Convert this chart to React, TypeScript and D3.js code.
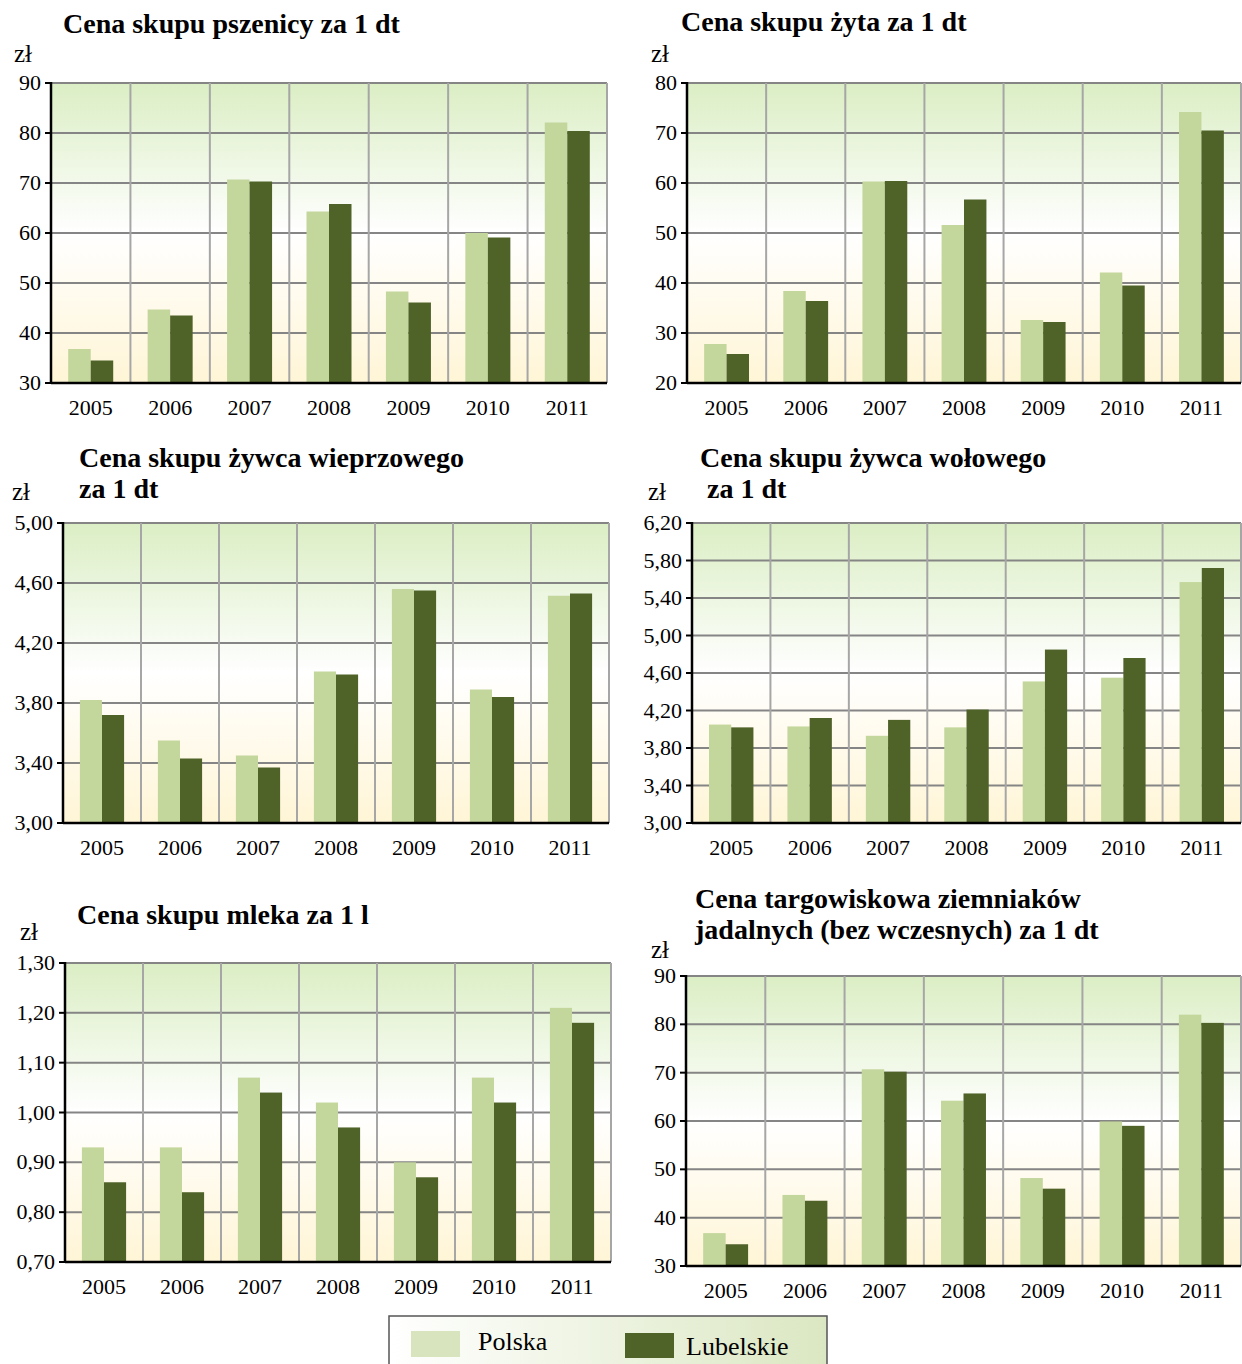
import React from "react";
import * as d3 from "d3";

const years = ["2005", "2006", "2007", "2008", "2009", "2010", "2011"];
const seriesNames = ["Polska", "Lubelskie"];

const wheatPolska = [36.8, 44.7, 70.7, 64.3, 48.3, 60.0, 82.1];
const wheatLubelskie = [34.5, 43.5, 70.3, 65.8, 46.1, 59.1, 80.4];
const wheatTicks = [30, 40, 50, 60, 70, 80, 90];

const ryePolska = [27.8, 38.4, 60.3, 51.6, 32.6, 42.1, 74.2];
const ryeLubelskie = [25.8, 36.4, 60.4, 56.7, 32.2, 39.5, 70.5];
const ryeTicks = [20, 30, 40, 50, 60, 70, 80];

const porkPolska = [3.82, 3.55, 3.45, 4.01, 4.56, 3.89, 4.515];
const porkLubelskie = [3.72, 3.43, 3.37, 3.99, 4.55, 3.84, 4.53];
const porkTicks = [3.0, 3.4, 3.8, 4.2, 4.6, 5.0];

const beefPolska = [4.05, 4.03, 3.93, 4.02, 4.51, 4.55, 5.57];
const beefLubelskie = [4.02, 4.12, 4.1, 4.21, 4.85, 4.76, 5.72];
const beefTicks = [3.0, 3.4, 3.8, 4.2, 4.6, 5.0, 5.4, 5.8, 6.2];

const milkPolska = [0.93, 0.93, 1.07, 1.02, 0.9, 1.07, 1.21];
const milkLubelskie = [0.86, 0.84, 1.04, 0.97, 0.87, 1.02, 1.18];
const milkTicks = [0.7, 0.8, 0.9, 1.0, 1.1, 1.2, 1.3];

const potatoPolska = [36.8, 44.7, 70.7, 64.2, 48.2, 59.9, 82.0];
const potatoLubelskie = [34.5, 43.5, 70.2, 65.7, 46.0, 59.0, 80.3];
const potatoTicks = [30, 40, 50, 60, 70, 80, 90];

const COLORS = ["#c3d69b", "#4f6228"];
const FONT = "'Liberation Serif', 'Times New Roman', serif";

type PanelProps = {
  id: string;
  titleLines: string[];
  titleX: number[];
  titleY: number;
  zlX: number;
  zlY: number;
  left: number;
  right: number;
  top: number;
  bottom: number;
  ticks: number[];
  decimals: number;
  polska: number[];
  lubelskie: number[];
};

function Panel(p: PanelProps) {
  const x = d3.scaleBand<string>().domain(years).range([p.left, p.right]).paddingInner(0).paddingOuter(0);
  const inner = d3.scaleBand<string>().domain(seriesNames).range([0, x.bandwidth()]).paddingInner(0).paddingOuter(0.765);
  const y = d3.scaleLinear().domain([p.ticks[0], p.ticks[p.ticks.length - 1]]).range([p.bottom, p.top]);
  const fmt = (v: number) => (p.decimals ? v.toFixed(p.decimals).replace(".", ",") : String(v));
  const data = [p.polska, p.lubelskie];
  return (
    <g>
      <rect x={p.left} y={p.top} width={p.right - p.left} height={p.bottom - p.top} fill="url(#bgGrad)" />
      {p.ticks.map((t) => (
        <line key={"h" + t} x1={p.left} x2={p.right} y1={y(t)} y2={y(t)} stroke="#858585" strokeWidth={2} />
      ))}
      {years.map((yr) => (
        <line key={"v" + yr} x1={(x(yr) as number) + x.bandwidth()} x2={(x(yr) as number) + x.bandwidth()} y1={p.top} y2={p.bottom} stroke="#a6a6a6" strokeWidth={2} />
      ))}
      {years.map((yr, i) =>
        seriesNames.map((s, si) => {
          const v = data[si][i];
          const bx = (x(yr) as number) + (inner(s) as number);
          return (
            <rect key={yr + s} x={bx} y={y(v)} width={inner.bandwidth()} height={p.bottom - y(v)} fill={COLORS[si]} />
          );
        })
      )}
      <line x1={p.left} x2={p.right} y1={p.bottom} y2={p.bottom} stroke="#000" strokeWidth={2.5} />
      <line x1={p.left} x2={p.left} y1={p.top - 1} y2={p.bottom + 1} stroke="#000" strokeWidth={2.5} />
      {p.ticks.map((t) => (
        <g key={"t" + t}>
          <line x1={p.left - 6} x2={p.left} y1={y(t)} y2={y(t)} stroke="#000" strokeWidth={2} />
          <text x={p.left - 10} y={y(t) + 7} textAnchor="end" fontSize={22} fontFamily={FONT}>{fmt(t)}</text>
        </g>
      ))}
      {years.map((yr) => (
        <text key={"l" + yr} x={(x(yr) as number) + x.bandwidth() / 2} y={p.bottom + 32} textAnchor="middle" fontSize={22} fontFamily={FONT}>{yr}</text>
      ))}
      <text x={p.zlX} y={p.zlY} fontSize={25} fontFamily={FONT}>zł</text>
      {p.titleLines.map((l, i) => (
        <text key={"ti" + i} x={p.titleX[i]} y={p.titleY + i * 31} fontSize={28} fontWeight="bold" fontFamily={FONT}>{l}</text>
      ))}
    </g>
  );
}

export default function App() {
  return (
    <svg width={1242} height={1364} style={{ position: "absolute", left: 0, top: 0, background: "#fff" }}>
      <defs>
        <linearGradient id="bgGrad" x1="0" y1="0" x2="0" y2="1">
          <stop offset="0" stopColor="#dbeec4" />
          <stop offset="0.5" stopColor="#ffffff" />
          <stop offset="1" stopColor="#fff5d6" />
        </linearGradient>
        <linearGradient id="legGrad" x1="0" y1="0" x2="1" y2="0">
          <stop offset="0" stopColor="#ffffff" />
          <stop offset="1" stopColor="#dbe7c2" />
        </linearGradient>
      </defs>
      <Panel id="a" titleLines={["Cena skupu pszenicy za 1 dt"]} titleX={[63]} titleY={33} zlX={14} zlY={62}
        left={51} right={607} top={83} bottom={383} ticks={wheatTicks} decimals={0} polska={wheatPolska} lubelskie={wheatLubelskie} />
      <Panel id="b" titleLines={["Cena skupu żyta za 1 dt"]} titleX={[681]} titleY={31} zlX={651} zlY={62}
        left={687} right={1241} top={83} bottom={383} ticks={ryeTicks} decimals={0} polska={ryePolska} lubelskie={ryeLubelskie} />
      <Panel id="c" titleLines={["Cena skupu żywca wieprzowego", "za 1 dt"]} titleX={[79, 79]} titleY={467} zlX={12} zlY={500}
        left={63} right={609} top={523} bottom={823} ticks={porkTicks} decimals={2} polska={porkPolska} lubelskie={porkLubelskie} />
      <Panel id="d" titleLines={["Cena skupu żywca wołowego", "za 1 dt"]} titleX={[700, 707]} titleY={467} zlX={648} zlY={500}
        left={692} right={1241} top={523} bottom={823} ticks={beefTicks} decimals={2} polska={beefPolska} lubelskie={beefLubelskie} />
      <Panel id="e" titleLines={["Cena skupu mleka za 1 l"]} titleX={[77]} titleY={924} zlX={20} zlY={940}
        left={65} right={611} top={963} bottom={1262} ticks={milkTicks} decimals={2} polska={milkPolska} lubelskie={milkLubelskie} />
      <Panel id="f" titleLines={["Cena targowiskowa ziemniaków", "jadalnych (bez wczesnych) za 1 dt"]} titleX={[695, 695]} titleY={908} zlX={651} zlY={958}
        left={686} right={1241} top={976} bottom={1266} ticks={potatoTicks} decimals={0} polska={potatoPolska} lubelskie={potatoLubelskie} />
      <g>
        <rect x={389} y={1316} width={438} height={52} fill="url(#legGrad)" stroke="#555" strokeWidth={1.5} />
        <rect x={411} y={1331} width={49} height={26} fill="#d7e4bd" />
        <text x={478} y={1350} fontSize={26} fontFamily={FONT}>{seriesNames[0]}</text>
        <rect x={625} y={1333} width={49} height={25} fill={COLORS[1]} />
        <text x={686} y={1355} fontSize={26} fontFamily={FONT}>{seriesNames[1]}</text>
      </g>
    </svg>
  );
}
